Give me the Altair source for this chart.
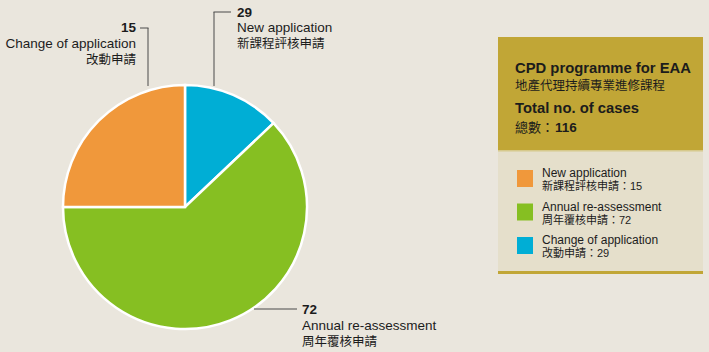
import altair as alt
import pandas as pd

# ---------------- data ----------------
legend_en = ["New application", "Annual re-assessment", "Change of application"]
legend_zh = ["新課程評核申請", "周年覆核申請", "改動申請"]
legend_counts = [15, 72, 29]
legend_colors = ["#f0983b", "#86bf22", "#00aed5"]

# pie slices clockwise from 12 o'clock (blue, green, orange)
slice_keys = ["blue", "green", "orange"]
slice_sizes = [15, 72, 29]
slice_colors = ["#00aed5", "#86bf22", "#f0983b"]

# callout labels as printed next to the pie
callout_numbers = ["29", "72", "15"]
callout_en = ["New application", "Annual re-assessment", "Change of application"]
callout_zh = ["新課程評核申請", "周年覆核申請", "改動申請"]

title_en = "CPD programme for EAA"
title_zh = "地產代理持續專業進修課程"
total_en = "Total no. of cases"
total_zh = "總數："
total_cases = 116

FONT = "Liberation Sans, Arial, Noto Sans CJK TC"
TXT = "#1c1c1c"
LINE = "#4a4a4a"
BG = "#eae6dd"

base = alt.Chart(pd.DataFrame({"k": [0]}))


def text(t, x, y, size=13, bold=False, align="left"):
    return base.mark_text(
        text=t, font=FONT, fontSize=size, fontWeight="bold" if bold else "normal",
        align=align, baseline="alphabetic", color=TXT,
    ).encode(x=alt.value(x), y=alt.value(y))


def rule(x, x2, y, y2, color=LINE, w=1):
    return base.mark_rule(color=color, strokeWidth=w).encode(
        x=alt.value(x), x2=alt.value(x2), y=alt.value(y), y2=alt.value(y2)
    )


def rect(x, x2, y, y2, color):
    return base.mark_rect(color=color).encode(
        x=alt.value(x), x2=alt.value(x2), y=alt.value(y), y2=alt.value(y2)
    )


layers = []

# pie
pie_df = pd.DataFrame({
    "key": slice_keys,
    "value": slice_sizes,
    "order": list(range(len(slice_keys))),
    "color": slice_colors,
})
pie = alt.Chart(pie_df).mark_arc(outerRadius=122, stroke="white", strokeWidth=2.5).encode(
    theta=alt.Theta("value:Q", stack=True),
    order=alt.Order("order:Q"),
    color=alt.Color("color:N", scale=None),
    x=alt.value(185),
    y=alt.value(207),
)
layers.append(pie)

# leader lines
layers += [
    rule(148, 148, 28, 86), rule(140, 148.5, 28, 28),          # 15 change
    rule(214, 214, 12, 86), rule(213.5, 231, 12, 12),          # 29 new
    rule(254, 297, 309, 309),                                 # 72 annual
]

# callout texts
layers += [
    text(callout_numbers[0], 237, 17, 13.5, True),
    text(callout_en[0], 237, 32, 13.5),
    text(callout_zh[0], 237, 48, 12.5),
    text(callout_numbers[2], 136, 32, 13.5, True, "right"),
    text(callout_en[2], 136, 48, 13.5, False, "right"),
    text(callout_zh[2], 136, 64, 12.5, False, "right"),
    text(callout_numbers[1], 302, 314, 13.5, True),
    text(callout_en[1], 302, 330, 13.5),
    text(callout_zh[1], 302, 346, 12.5),
]

# legend box
layers += [
    rect(498, 703, 37, 150, "#c1a636"),
    rect(498, 703, 150, 274, "#e5dfcb"),
    rect(498, 703, 150, 151.5, "#d6c98c"),
    rect(498, 703, 271, 274, "#c1a636"),
    text(title_en, 515, 73, 14.8, True),
    text(title_zh, 515, 90, 12.5),
    text(total_en, 515, 113, 14.8, True),
    text(total_zh, 515, 132, 13),
    text(str(total_cases), 555, 132, 13.5, True),
]
for i, (en, zh, n, c) in enumerate(zip(legend_en, legend_zh, legend_counts, legend_colors)):
    y0 = 170 + i * 33.5
    layers.append(rect(517, 533, y0, y0 + 17, c))
    layers.append(text(en, 542, y0 + 7, 12))
    layers.append(text(f"{zh}：{n}", 542, y0 + 20, 11))

chart = alt.layer(*layers).properties(
    width=709, height=352, padding=0, autosize="none", background=BG
).configure_view(stroke=None)

chart.save("out.html", embed_options={"renderer": "svg", "actions": False})
